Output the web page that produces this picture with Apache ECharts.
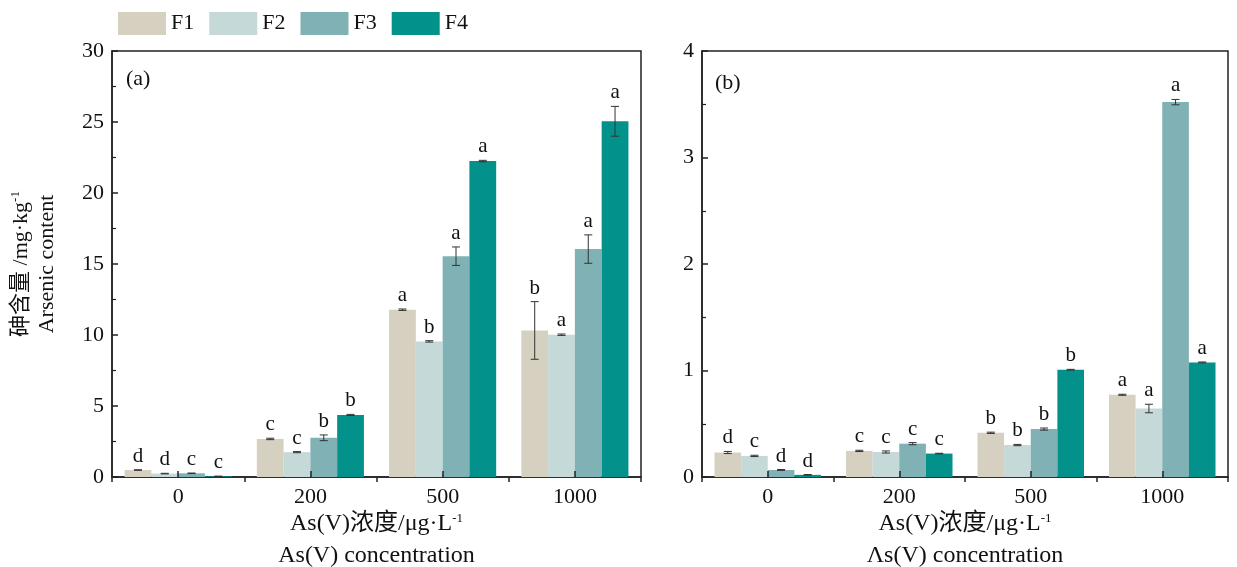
<!DOCTYPE html>
<html>
<head>
<meta charset="utf-8">
<script src="https://cdn.jsdelivr.net/npm/echarts@6/dist/echarts.min.js"></script>
<style>
  html, body { margin: 0; padding: 0; background: #fff; }
  #chart { width: 1237px; height: 567px; }
</style>
</head>
<body>
<div id="chart"></div>
<script>
// 类别与系列
const categories = ['0', '200', '500', '1000'];
const seriesNames = ['F1', 'F2', 'F3', 'F4'];
const colors = ['#d6d0c1', '#c5d9d8', '#80b1b5', '#03918c'];

// (a) 各形态砷含量，按 F1..F4
const valuesA = [
  [0.49, 2.68, 11.78, 10.32],
  [0.24, 1.75, 9.55, 10.02],
  [0.26, 2.76, 15.55, 16.05],
  [0.05, 4.37, 22.25, 25.05]
];
const errorsA = [
  [0.02, 0.05, 0.05, 2.03],
  [0.02, 0.04, 0.05, 0.05],
  [0.02, 0.2, 0.65, 1.0],
  [0.01, 0.04, 0.05, 1.05]
];
const lettersA = [
  ['d', 'c', 'a', 'b'],
  ['d', 'c', 'b', 'a'],
  ['c', 'b', 'a', 'a'],
  ['c', 'b', 'a', 'a']
];

// (b)
const valuesB = [
  [0.23, 0.245, 0.415, 0.772],
  [0.198, 0.235, 0.30, 0.643],
  [0.066, 0.313, 0.45, 3.52],
  [0.02, 0.22, 1.007, 1.076]
];
const errorsB = [
  [0.01, 0.006, 0.006, 0.005],
  [0.006, 0.01, 0.006, 0.04],
  [0.004, 0.01, 0.01, 0.025],
  [0.003, 0.003, 0.004, 0.004]
];
const lettersB = [
  ['d', 'c', 'b', 'a'],
  ['c', 'c', 'b', 'a'],
  ['d', 'c', 'b', 'a'],
  ['d', 'c', 'b', 'a']
];

const FONT = '"Liberation Serif", "Times New Roman", "Noto Sans CJK SC", serif';
const CAT_GAP = 0.19;
const AXIS_COLOR = '#222';

function errRender(si, letters) {
  return function (params, api) {
    const cat = api.value(0), v = api.value(1), e = api.value(2);
    const catW = api.size([1, 0])[0];
    const bw = catW * (1 - CAT_GAP) / 4;
    const dx = (si - 1.5) * bw;
    const top = api.coord([cat, v + e]);
    const bot = api.coord([cat, Math.max(0, v - e)]);
    const x = top[0] + dx;
    const cap = 4;
    const st = { stroke: '#333', lineWidth: 1 };
    return {
      type: 'group',
      children: [
        { type: 'line', shape: { x1: x, y1: top[1], x2: x, y2: bot[1] }, style: st },
        { type: 'line', shape: { x1: x - cap, y1: top[1], x2: x + cap, y2: top[1] }, style: st },
        { type: 'line', shape: { x1: x - cap, y1: bot[1], x2: x + cap, y2: bot[1] }, style: st },
        {
          type: 'text',
          style: {
            x: x, y: top[1] - 3, text: letters[params.dataIndex],
            align: 'center', verticalAlign: 'bottom',
            fontFamily: FONT, fontSize: 21, fill: '#111'
          }
        }
      ]
    };
  };
}

function buildSeries(gridIdx, values, errors, letters) {
  const xi = gridIdx * 2, yi = gridIdx;
  const out = [];
  seriesNames.forEach((name, si) => {
    out.push({
      name, type: 'bar', xAxisIndex: xi, yAxisIndex: yi,
      barGap: '0%', barCategoryGap: (CAT_GAP * 100) + '%',
      itemStyle: { color: colors[si] },
      data: values[si]
    });
  });
  seriesNames.forEach((name, si) => {
    out.push({
      type: 'custom', xAxisIndex: xi, yAxisIndex: yi, z: 5,
      renderItem: errRender(si, letters[si]),
      data: values[si].map((v, ci) => [ci, v, errors[si][ci]])
    });
  });
  return out;
}

const supStyle = { fontSize: 13, fontFamily: FONT, padding: [0, 0, 11, 0], color: '#111' };

function mainX(gridIndex) {
  return {
    type: 'category', gridIndex, data: categories,
    axisLine: { lineStyle: { color: AXIS_COLOR, width: 1.5 } },
    axisTick: { show: true, inside: false, length: 5, lineStyle: { color: AXIS_COLOR, width: 1.5 } },
    axisLabel: { fontFamily: FONT, fontSize: 22, color: '#111', margin: 9 },
    name: 'As(V)浓度/μg·L{sup|-1}\n' + (gridIndex === 0 ? 'As(V)' : 'Λs(V)') + ' concentration',
    nameLocation: 'middle', nameGap: 31, nameMoveOverlap: false,
    nameTextStyle: { fontFamily: FONT, fontSize: 24, color: '#111', lineHeight: 32, rich: { sup: supStyle } }
  };
}

function tickX(gridIndex) {
  return {
    type: 'category', gridIndex, data: categories, position: 'bottom', z: 10,
    axisLine: { show: false },
    axisTick: { show: true, inside: true, alignWithLabel: true, length: 6, lineStyle: { color: AXIS_COLOR, width: 1.5 } },
    axisLabel: { show: false },
    splitLine: { show: false }
  };
}

function yAx(gridIndex, max, interval) {
  return {
    type: 'value', gridIndex, min: 0, max, interval,
    axisLine: { show: true, lineStyle: { color: AXIS_COLOR, width: 1.5 } },
    axisTick: { show: true, inside: true, length: 6, lineStyle: { color: AXIS_COLOR, width: 1.5 } },
    minorTick: { show: true, splitNumber: 2, length: 4, lineStyle: { color: AXIS_COLOR, width: 1.2 } },
    axisLabel: { fontFamily: FONT, fontSize: 22, color: '#111', margin: 8 },
    splitLine: { show: false }
  };
}

const chart = echarts.init(document.getElementById('chart'));

const yA = yAx(0, 30, 5);
yA.name = '砷含量 /mg·kg{sup|-1}\nArsenic content';
yA.nameLocation = 'middle';
yA.nameRotate = 90;
yA.nameGap = 52;
yA.nameMoveOverlap = false;
yA.nameTextStyle = {
  fontFamily: FONT, fontSize: 22, color: '#111', lineHeight: 26,
  rich: { sup: supStyle }
};

const option = {
  animation: false,
  backgroundColor: '#fff',
  legend: {
    left: 113, top: 7, icon: 'rect',
    itemWidth: 48, itemHeight: 23, itemGap: 15,
    textStyle: { fontFamily: FONT, fontSize: 22, color: '#111' },
    data: seriesNames
  },
  grid: [
    { left: 112, right: 596, top: 51, bottom: 90, outerBoundsMode: 'none', containLabel: false,
      show: true, borderColor: AXIS_COLOR, borderWidth: 1.5 },
    { left: 702, right: 9, top: 51, bottom: 90, outerBoundsMode: 'none', containLabel: false,
      show: true, borderColor: AXIS_COLOR, borderWidth: 1.5 }
  ],
  xAxis: [mainX(0), tickX(0), mainX(1), tickX(1)],
  yAxis: [yA, yAx(1, 4, 1)],
  graphic: [
    { type: 'text', left: 126, top: 68, style: { text: '(a)', fontFamily: FONT, fontSize: 22, fill: '#111' } },
    { type: 'text', left: 715, top: 72, style: { text: '(b)', fontFamily: FONT, fontSize: 22, fill: '#111' } }
  ],
  series: [
    ...buildSeries(0, valuesA, errorsA, lettersA),
    ...buildSeries(1, valuesB, errorsB, lettersB)
  ]
};

chart.setOption(option);
</script>
</body>
</html>
